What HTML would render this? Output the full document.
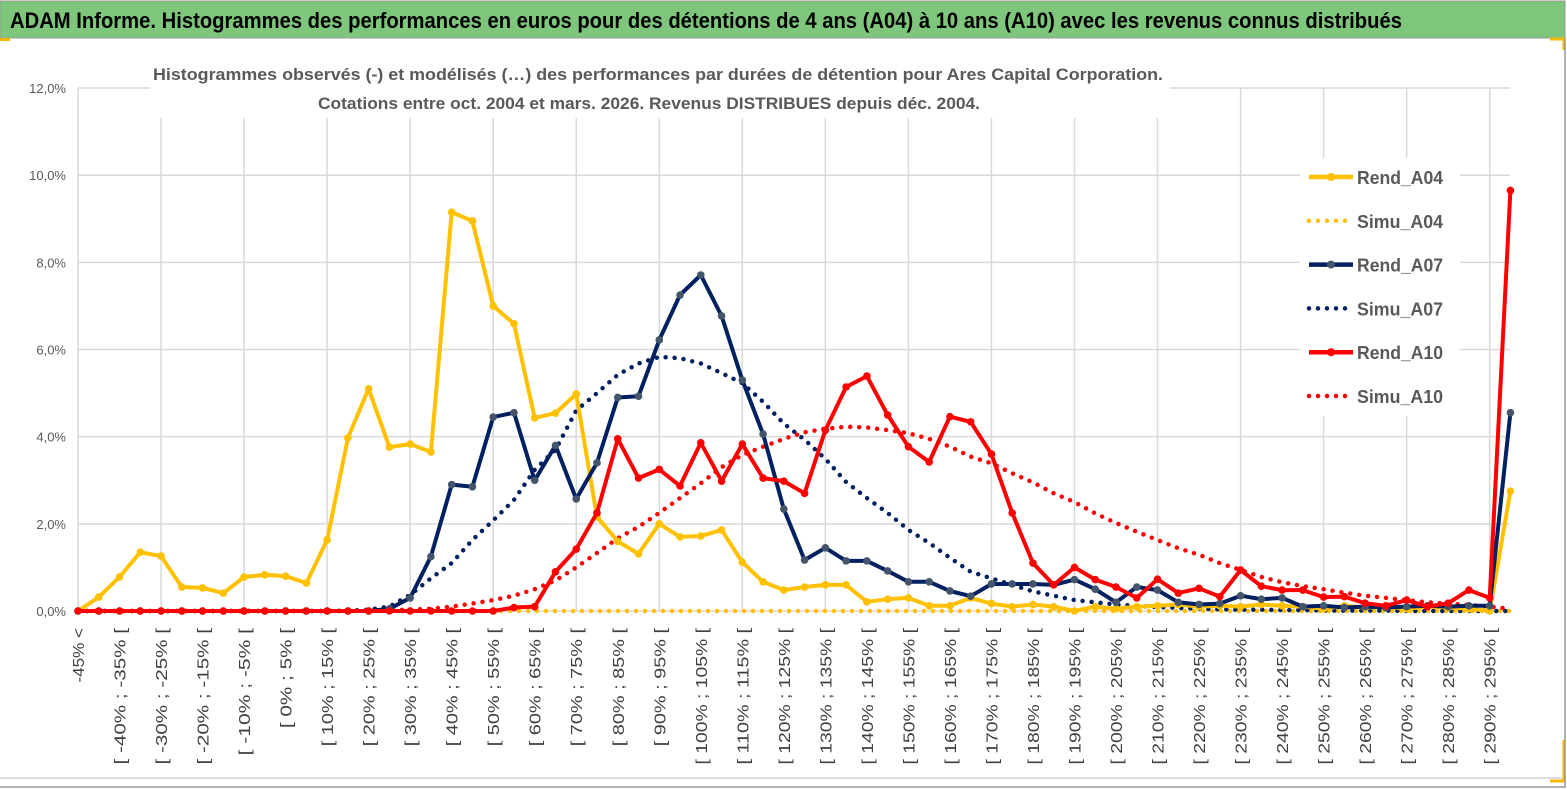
<!DOCTYPE html>
<html><head><meta charset="utf-8">
<style>
html,body{margin:0;padding:0;background:#fff;}
svg{display:block;font-family:"Liberation Sans",sans-serif;}
</style></head>
<body>
<svg id="chart" width="1567" height="789" viewBox="0 0 1567 789">
  <rect x="0" y="0" width="1567" height="789" fill="#fff"/>
  <rect x="0" y="1" width="1565" height="37" fill="#7dc67b" stroke="#9a9a9a" stroke-width="1"/>
  <text x="10" y="28" font-size="22" font-weight="bold" fill="#000" textLength="1392" lengthAdjust="spacingAndGlyphs">ADAM Informe. Histogrammes des performances en euros pour des détentions de 4 ans (A04) à 10 ans (A10) avec les revenus connus distribués</text>
  <rect x="0" y="38" width="10" height="3" fill="#f5b800"/>
  <path d="M1550 39 H1564 V50" fill="none" stroke="#f5b800" stroke-width="3"/>
  <path d="M1564 740 V781 H1550" fill="none" stroke="#f5b800" stroke-width="3"/>
  <line x1="0" y1="778" x2="1562" y2="778" stroke="#ddd" stroke-width="2"/>
  <line x1="0" y1="787" x2="1565" y2="787" stroke="#999" stroke-width="1.5"/>
  <line x1="1565" y1="38" x2="1565" y2="788" stroke="#999" stroke-width="1.5"/>
  <g id="grid"></g>
  <rect x="150" y="60" width="1020" height="58" fill="#fff"/>
  <text x="658" y="80" text-anchor="middle" font-size="17" font-weight="bold" fill="#595959" textLength="1010" lengthAdjust="spacingAndGlyphs">Histogrammes observés (-) et modélisés (…) des performances par durées de détention pour Ares Capital Corporation.</text>
  <text x="649" y="109" text-anchor="middle" font-size="17" font-weight="bold" fill="#595959" textLength="662" lengthAdjust="spacingAndGlyphs">Cotations entre oct. 2004 et mars. 2026. Revenus DISTRIBUES depuis déc. 2004.</text>
  <g id="yaxis"></g>
  <g id="xaxis"></g>
  <g id="series"></g>
  <g id="legend"></g>
</svg>
<script>
const categories = ["-45% <"];
for (let a = -45; a < 300; a += 5) categories.push("[ " + a + "% ; " + (a + 5) + "% [");
categories.length = 70;
const yTicks = [0, 2, 4, 6, 8, 10, 12];
const yTickLabels = ["0,0%", "2,0%", "4,0%", "6,0%", "8,0%", "10,0%", "12,0%"];

const rendA04 = [0,0.32,0.78,1.35,1.26,0.55,0.53,0.41,0.78,0.83,0.80,0.64,1.63,3.97,5.1,3.76,3.83,3.65,9.15,8.95,7.0,6.59,4.43,4.54,4.98,2.16,1.6,1.31,2.0,1.7,1.72,1.86,1.12,0.67,0.48,0.55,0.6,0.6,0.21,0.27,0.3,0.12,0.12,0.3,0.17,0.1,0.15,0.1,0.0,0.1,0.05,0.1,0.12,0.15,0.1,0.12,0.1,0.15,0.12,0.1,0.05,0.12,0.08,0.1,0.05,0.1,0.08,0.05,0.0,2.75];
const simuA04 = new Array(70).fill(0);
const rendA07 = [0,0,0,0,0,0,0,0,0,0,0,0,0,0,0,0.05,0.3,1.25,2.9,2.85,4.45,4.55,3.0,3.8,2.57,3.4,4.9,4.93,6.22,7.25,7.71,6.77,5.3,4.06,2.34,1.17,1.45,1.15,1.15,0.92,0.67,0.67,0.46,0.34,0.62,0.62,0.62,0.6,0.72,0.5,0.2,0.55,0.48,0.2,0.15,0.17,0.35,0.27,0.3,0.1,0.12,0.08,0.1,0.08,0.1,0.12,0.1,0.12,0.12,4.55];
const simuA07 = [0,0,0,0,0,0,0,0,0,0,0,0,0,0.01,0.03,0.1,0.37,0.75,1.1,1.63,2.08,2.55,3.24,3.7,4.6,5.0,5.42,5.68,5.83,5.8,5.68,5.46,5.23,4.8,4.3,3.93,3.49,2.96,2.59,2.25,1.86,1.56,1.22,0.9,0.75,0.6,0.45,0.35,0.25,0.2,0.15,0.12,0.09,0.07,0.05,0.04,0.03,0.03,0.02,0.02,0.01,0.01,0.01,0.01,0,0,0,0,0,0];
const rendA10 = [0,0,0,0,0,0,0,0,0,0,0,0,0,0,0,0,0,0,0,0,0,0.08,0.1,0.9,1.42,2.25,3.95,3.05,3.25,2.87,3.86,2.98,3.83,3.05,2.98,2.7,4.15,5.14,5.39,4.5,3.77,3.42,4.46,4.34,3.6,2.25,1.1,0.6,1.0,0.72,0.55,0.3,0.73,0.41,0.52,0.33,0.94,0.57,0.48,0.48,0.32,0.33,0.18,0.12,0.25,0.1,0.18,0.48,0.3,9.65];
const simuA10 = [0,0,0,0,0,0,0,0,0,0,0,0,0,0,0.01,0.02,0.03,0.05,0.1,0.17,0.25,0.35,0.5,0.7,1.0,1.33,1.67,1.93,2.25,2.59,2.93,3.3,3.58,3.77,3.95,4.1,4.18,4.23,4.21,4.15,4.08,3.95,3.77,3.54,3.39,3.16,2.95,2.7,2.5,2.24,2.02,1.82,1.63,1.44,1.29,1.1,0.94,0.78,0.66,0.57,0.5,0.42,0.35,0.3,0.25,0.2,0.17,0.14,0.1,0.05];

const NS = "http://www.w3.org/2000/svg";
const X0 = 78, DX = 20.76, Y0 = 611, YK = 43.58;
function xs(i){ return X0 + i * DX; }
function ys(v){ return Y0 - v * YK; }
function mk(tag, attrs, parent){
  const e = document.createElementNS(NS, tag);
  for (const k in attrs) e.setAttribute(k, attrs[k]);
  parent.appendChild(e); return e;
}
const grid = document.getElementById("grid");
yTicks.forEach(function(t){
  const l = mk("line", {x1: X0, x2: 1510, y1: ys(t), y2: ys(t), stroke: "#d9d9d9", "stroke-width": 1.5}, grid);
  
  
});
for (let i = 0; i < categories.length; i += 4) {
  const l = mk("line", {x1: xs(i), x2: xs(i), y1: ys(12), y2: Y0, stroke: "#d9d9d9", "stroke-width": 1.5}, grid);
  
  
}
const yax = document.getElementById("yaxis");
yTicks.forEach(function(t, k){
  const tx = mk("text", {x: 66, y: ys(t) + 5, "text-anchor": "end", "font-size": 13, fill: "#595959"}, yax);
  tx.textContent = yTickLabels[k];
  
  
});
const xax = document.getElementById("xaxis");
for (let i = 0; i < 69; i += 2) {
  const lab = categories[i];
  const tx = mk("text", {x: 0, y: 0, "text-anchor": "end", "font-size": 16, fill: "#404040",
    textLength: (lab.length * 9.1).toFixed(1), lengthAdjust: "spacingAndGlyphs",
    transform: "translate(" + (xs(i) + 6) + ",628) rotate(-90)"}, xax);
  tx.textContent = lab;
  
  
}
const ser = document.getElementById("series");
function pts(arr){ return arr.map(function(v, i){ return xs(i).toFixed(1) + "," + ys(v).toFixed(1); }).join(" "); }
function dotted(arr, color, name){
  const p = mk("polyline", {points: pts(arr), fill: "none", stroke: color, "stroke-width": 4.5, "stroke-dasharray": "0 9", "stroke-linecap": "round"}, ser);
  
  
}
function solid(arr, color, mcol, name){
  const g = mk("g", {}, ser);
  
  
  mk("polyline", {points: pts(arr), fill: "none", stroke: color, "stroke-width": 4, "stroke-linejoin": "round"}, g);
  arr.forEach(function(v, i){
    const c = mk("circle", {cx: xs(i), cy: ys(v), r: 3.8, fill: mcol}, g);
    
    
  });
}
dotted(simuA04, "#ffc000", "simu-a04-line");
dotted(simuA07, "#002060", "simu-a07-line");
dotted(simuA10, "#ff0000", "simu-a10-line");
solid(rendA04, "#ffc000", "#ffc000", "rend-a04-line");
solid(rendA07, "#002060", "#44546a", "rend-a07-line");
solid(rendA10, "#ff0000", "#ff0000", "rend-a10-line");

const leg = document.getElementById("legend");
mk("rect", {x: 1300, y: 158, width: 160, height: 258, fill: "#fff"}, leg);
const legendNames = ["Rend_A04", "Simu_A04", "Rend_A07", "Simu_A07", "Rend_A10", "Simu_A10"];
const legendColors = ["#ffc000", "#ffc000", "#002060", "#002060", "#ff0000", "#ff0000"];
legendNames.forEach(function(n, k){
  const y = 177 + k * 43.8;
  const g = mk("g", {}, leg);
  
  
  if (k % 2 === 0) {
    mk("line", {x1: 1309, x2: 1353, y1: y, y2: y, stroke: legendColors[k], "stroke-width": 4.5}, g);
    mk("circle", {cx: 1331, cy: y, r: 4, fill: k === 2 ? "#44546a" : legendColors[k]}, g);
  } else {
    mk("line", {x1: 1309, x2: 1353, y1: y, y2: y, stroke: legendColors[k], "stroke-width": 4.5, "stroke-dasharray": "0 9", "stroke-linecap": "round"}, g);
  }
  const t = mk("text", {x: 1357, y: y + 7, "font-size": 18, "font-weight": "bold", fill: "#595959", textLength: 86, lengthAdjust: "spacingAndGlyphs"}, g);
  t.textContent = n;
});
</script>
</body></html>
